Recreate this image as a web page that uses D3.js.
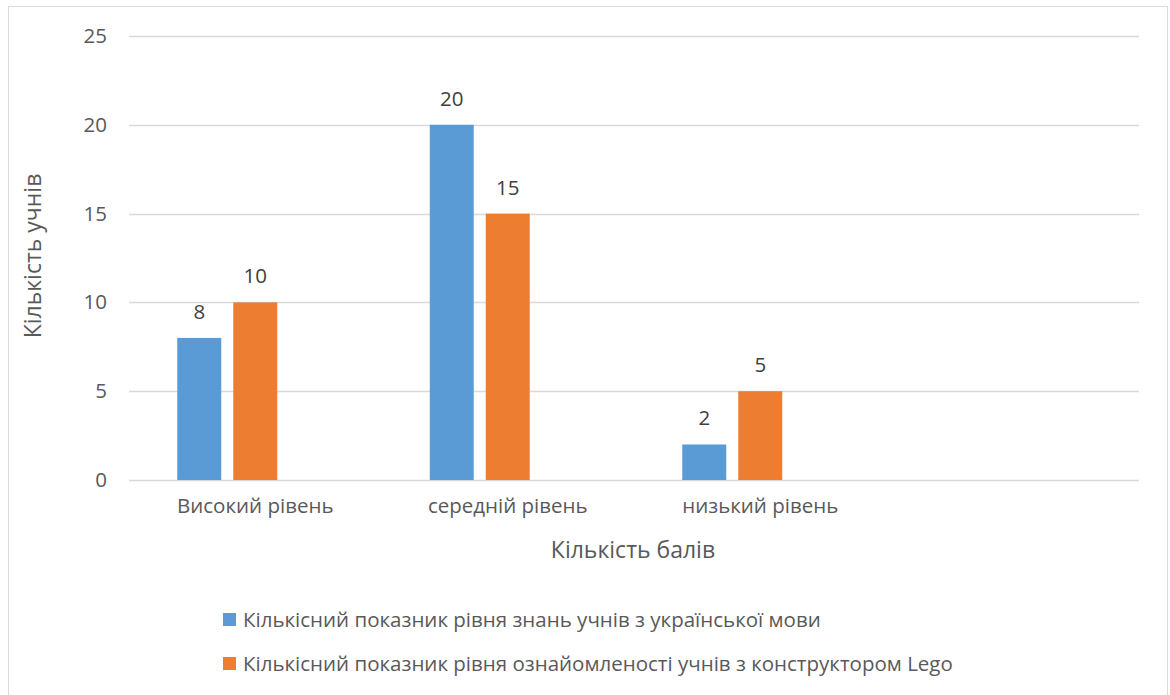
<!DOCTYPE html>
<html>
<head>
<meta charset="utf-8">
<script src="https://cdn.jsdelivr.net/npm/d3@7/dist/d3.min.js"></script>
<style>
  html, body { margin: 0; padding: 0; background: #fff; }
  svg { display: block; font-family: "Open Sans", sans-serif; }
</style>
</head>
<body>
<svg id="chart" width="1170" height="695"></svg>
<script>
// Categories on the x axis (the fourth slot is an empty category)
const categories = ["Високий рівень", "середній рівень", "низький рівень", ""];
// Series names
const seriesNames = [
  "Кількісний показник рівня знань учнів з української мови",
  "Кількісний показник рівня ознайомленості учнів з конструктором Lego"
];
// Values per series, aligned with categories
const seriesKnowledge = [8, 20, 2, null];
const seriesLego = [10, 15, 5, null];
// Y axis ticks
const yTicks = [0, 5, 10, 15, 20, 25];
const colors = ["#5b9bd5", "#ed7d31"];
const slots = ["a", "b", "c"];

const FONT = "'Open Sans', sans-serif";
const LABEL_SIZE = 20.5;
const TITLE_SIZE = 23;
const svg = d3.select("#chart");

// Outer chart border
svg.append("rect")
  .attr("x", 8.5).attr("y", 6.5)
  .attr("width", 1159).attr("height", 700)
  .attr("fill", "#fff").attr("stroke", "#d9d9d9").attr("stroke-width", 1);

const plot = { left: 129, right: 1139, top: 36, bottom: 480 };

const x0 = d3.scaleBand().domain(d3.range(categories.length))
  .range([plot.left, plot.right]).paddingInner(0).paddingOuter(0);
const y = d3.scaleLinear().domain([0, 25]).range([plot.bottom, plot.top]);

// Slot layout inside one category: three slots, bars 44 wide with 12 gap
const groupW = 156;
const x1 = d3.scaleBand().domain(slots).range([0, groupW]).paddingInner(12 / 56).paddingOuter(0);

// Gridlines
svg.append("g")
  .selectAll("line").data(yTicks).join("line")
  .attr("x1", plot.left).attr("x2", plot.right)
  .attr("y1", d => Math.round(y(d)) + 0.5).attr("y2", d => Math.round(y(d)) + 0.5)
  .attr("stroke", "#d9d9d9").attr("stroke-width", 1.5);

// Y axis tick labels
const yAxis = d3.axisLeft(y).tickValues(yTicks).tickSize(0).tickPadding(0);
const gy = svg.append("g").attr("transform", `translate(${plot.left - 22},0)`).call(yAxis);
gy.select(".domain").remove();
gy.selectAll("text").attr("fill", "#595959").attr("font-size", LABEL_SIZE).attr("font-family", FONT);

// X axis category labels
const xAxis = d3.axisBottom(x0).tickFormat(i => categories[i]).tickSize(0).tickPadding(0);
const gx = svg.append("g").attr("transform", `translate(0,${plot.bottom + 18})`).call(xAxis);
gx.select(".domain").remove();
gx.selectAll("text").attr("fill", "#595959").attr("font-size", LABEL_SIZE).attr("font-family", FONT);

// Bars
const series = [seriesKnowledge, seriesLego];
series.forEach((vals, si) => {
  const data = vals.map((v, i) => ({ i, v })).filter(d => d.v != null);
  const g = svg.append("g");
  const groupStart = i => x0(i) + (x0.bandwidth() - groupW) / 2;
  g.selectAll("rect").data(data).join("rect")
    .attr("x", d => groupStart(d.i) + x1(slots[si]))
    .attr("y", d => y(d.v))
    .attr("width", x1.bandwidth())
    .attr("height", d => y(0) - y(d.v))
    .attr("fill", colors[si]);
  g.selectAll("text").data(data).join("text")
    .attr("x", d => groupStart(d.i) + x1(slots[si]) + x1.bandwidth() / 2)
    .attr("y", d => y(d.v) - 19)
    .attr("text-anchor", "middle")
    .attr("fill", "#404040").attr("font-size", LABEL_SIZE)
    .text(d => d.v);
});

// Axis titles
svg.append("text")
  .attr("x", (plot.left + plot.right) / 2 - 1).attr("y", 558)
  .attr("text-anchor", "middle").attr("fill", "#595959").attr("font-size", TITLE_SIZE)
  .text("Кількість балів");
svg.append("text")
  .attr("transform", "translate(41,256) rotate(-90)")
  .attr("text-anchor", "middle").attr("fill", "#595959").attr("font-size", TITLE_SIZE)
  .text("Кількість учнів");

// Legend
const legend = svg.append("g");
seriesNames.forEach((name, i) => {
  const ly = 620 + i * 44;
  legend.append("rect").attr("x", 223).attr("y", ly - 7).attr("width", 13).attr("height", 13)
    .attr("fill", colors[i]);
  legend.append("text").attr("x", 243).attr("y", ly).attr("dy", "0.35em")
    .attr("fill", "#595959").attr("font-size", LABEL_SIZE).text(name);
});
</script>
</body>
</html>
